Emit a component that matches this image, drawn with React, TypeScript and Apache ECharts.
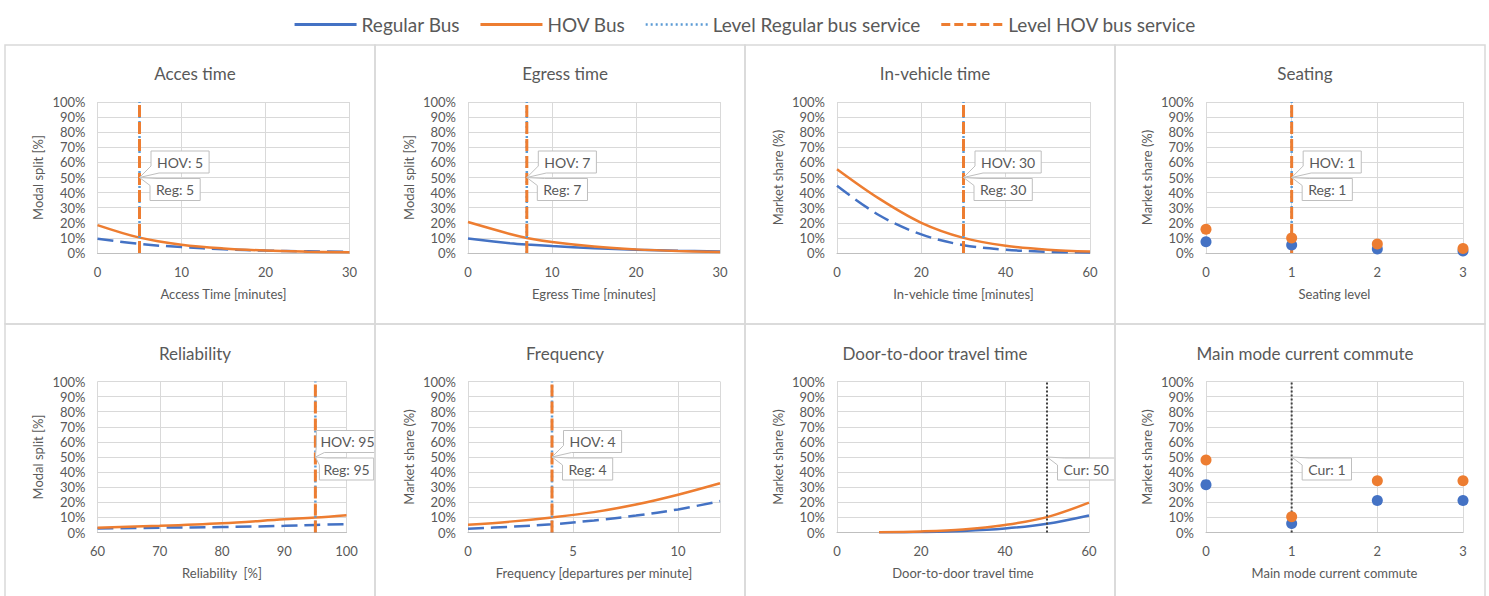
import React, { useEffect, useRef } from "react";
import * as echarts from "echarts";

const FONT = "Lato, 'Open Sans', sans-serif";
const TEXT = "#595959";
const GRIDLINE = "#D9D9D9";
const BLUE = "#4472C4";
const ORANGE = "#ED7D31";
const LIGHTBLUE = "#5B9BD5";
const CURCOLOR = "#404040";

const legendNames = ["Regular Bus", "HOV Bus", "Level Regular bus service", "Level HOV bus service"];

const titles = ["Acces time", "Egress time", "In-vehicle time", "Seating", "Reliability", "Frequency", "Door-to-door travel time", "Main mode current commute"];
const xNames = ["Access Time [minutes]", "Egress Time [minutes]", "In-vehicle time [minutes]", "Seating level", "Reliability  [%]", "Frequency [departures per minute]", "Door-to-door travel time", "Main mode current commute"];
const yNames = ["Modal split [%]", "Modal split [%]", "Market share (%)", "Market share (%)", "Modal split [%]", "Market share (%)", "Market share (%)", "Market share (%)"];
const xMins = [0, 0, 0, 0, 60, 0, 0, 0];
const xMaxs = [30, 30, 60, 3, 100, 12, 60, 3];
const xIntervals = [10, 10, 20, 1, 10, 5, 20, 1];

// Access time
const accessX = [0, 5, 10, 15, 20, 25, 30];
const accessHov = [18.5, 10.2, 5.5, 3.0, 1.6, 0.9, 0.5];
const accessReg = [9.5, 6.0, 3.9, 2.5, 1.6, 1.1, 0.8];
const accessLevel = 5;

// Egress time
const egressX = [0, 5, 7, 10, 15, 20, 25, 30];
const egressHov = [20.5, 12.6, 10.0, 7.3, 4.3, 2.4, 1.3, 0.7];
const egressReg = [9.6, 6.5, 5.6, 4.6, 3.2, 2.2, 1.5, 1.0];
const egressLevel = 7;

// In-vehicle time
const inVehX = [0, 10, 20, 30, 40, 50, 60];
const inVehHov = [55.5, 36, 20, 10, 4.8, 2.2, 1.0];
const inVehReg = [44.5, 25, 12.3, 5.2, 2.2, 0.8, 0.3];
const inVehLevel = 30;

// Seating
const seatingX = [0, 1, 2, 3];
const seatingHov = [15.8, 10.0, 5.9, 3.0];
const seatingReg = [7.4, 5.3, 2.7, 1.4];
const seatingLevel = 1;

// Reliability
const relX = [60, 70, 80, 90, 95, 100];
const relHov = [3.2, 4.4, 6.1, 8.7, 9.9, 11.5];
const relReg = [2.6, 3.2, 3.6, 4.4, 5.0, 5.6];
const relLevel = 95;

// Frequency
const freqX = [0, 2, 4, 6, 8, 10, 12];
const freqHov = [5.2, 7.2, 10, 13.5, 18.5, 25, 32.6];
const freqReg = [2.5, 3.8, 5.4, 8.0, 11.2, 15.3, 20.8];
const freqLevel = 4;

// Door-to-door travel time
const d2dX = [10, 20, 30, 40, 50, 60];
const d2dHov = [0.2, 0.7, 2.0, 5.0, 10.2, 19.8];
const d2dReg = [0.1, 0.35, 1.0, 2.6, 5.8, 11.3];
const d2dCurrent = 50;

// Main mode current commute
const mainX = [0, 1, 2, 3];
const mainHov = [48, 10.5, 34.3, 34.3];
const mainReg = [31.7, 5.9, 21.2, 21.2];
const mainCurrent = 1;

type PanelData = {
  kind: "line" | "scatter";
  x: number[];
  hov: number[];
  reg: number[];
  regDashed: boolean;
  level: number | null;
  current: number | null;
};

const panelData: PanelData[] = [
  { kind: "line", x: accessX, hov: accessHov, reg: accessReg, regDashed: true, level: accessLevel, current: null },
  { kind: "line", x: egressX, hov: egressHov, reg: egressReg, regDashed: false, level: egressLevel, current: null },
  { kind: "line", x: inVehX, hov: inVehHov, reg: inVehReg, regDashed: true, level: inVehLevel, current: null },
  { kind: "scatter", x: seatingX, hov: seatingHov, reg: seatingReg, regDashed: false, level: seatingLevel, current: null },
  { kind: "line", x: relX, hov: relHov, reg: relReg, regDashed: true, level: relLevel, current: null },
  { kind: "line", x: freqX, hov: freqHov, reg: freqReg, regDashed: true, level: freqLevel, current: null },
  { kind: "line", x: d2dX, hov: d2dHov, reg: d2dReg, regDashed: false, level: null, current: d2dCurrent },
  { kind: "scatter", x: mainX, hov: mainHov, reg: mainReg, regDashed: false, level: null, current: mainCurrent },
];

// layout (pixels)
const gridLefts = [97.5, 468, 837, 1206, 97.5, 468, 837, 1206];
const gridWidths = [252, 252, 253, 257, 249, 252, 252, 257];
const gridTops = [102, 102, 102, 102, 381.5, 381.5, 381.5, 381.5];
const gridHeight = 151;
const panelLefts = [5, 375, 745, 1115];
const panelWidth = 370;
const panelTops = [45, 324];
const panelHeights = [279, 280];

// callout offsets per panel: [hov dx, reg dx, text padding]
const calloutDx: Record<number, [number, number, number]> = {
  0: [11.5, 10.5, 6],
  1: [11.5, 10.5, 6],
  2: [11.5, 10.5, 6],
  3: [11.5, 10.5, 6],
  4: [1, 4, 4],
  5: [11.5, 10.5, 6],
};

function zip(xs: number[], ys: number[]) {
  return xs.map((x, i) => [x, ys[i]]);
}

export default function App() {
  const ref = useRef<HTMLDivElement>(null);
  useEffect(() => {
    if (!ref.current) return;
    const chart = echarts.init(ref.current, undefined, { renderer: "svg" });

    const grids: any[] = [];
    const xAxes: any[] = [];
    const yAxes: any[] = [];
    const titleOpts: any[] = [];
    const series: any[] = [];

    panelData.forEach((p, i) => {
      const col = i % 4;
      const row = Math.floor(i / 4);
      grids.push({ left: gridLefts[i], top: gridTops[i], width: gridWidths[i], height: gridHeight, containLabel: false });
      const interval = xIntervals[i];
      xAxes.push({
        type: "value",
        gridIndex: i,
        min: xMins[i],
        max: xMaxs[i],
        interval,
        name: xNames[i],
        nameLocation: "middle",
        nameGap: 34,
        nameTextStyle: { fontSize: 13, color: TEXT, fontFamily: FONT },
        axisLine: { show: true, lineStyle: { color: "#BFBFBF", width: 1 } },
        axisTick: { show: false },
        axisLabel: {
          fontSize: 13,
          color: TEXT,
          fontFamily: FONT,
          margin: 12,
          formatter: (v: number) => ((v - xMins[i]) % interval === 0 ? String(v) : ""),
        },
        splitLine: { show: true, lineStyle: { color: GRIDLINE, width: 1 } },
      });
      yAxes.push({
        type: "value",
        gridIndex: i,
        min: 0,
        max: 100,
        interval: 10,
        name: yNames[i],
        nameLocation: "middle",
        nameGap: 53,
        nameTextStyle: { fontSize: 13, color: TEXT, fontFamily: FONT },
        axisLine: { show: false },
        axisTick: { show: false },
        axisLabel: { fontSize: 13, color: TEXT, fontFamily: FONT, margin: 12, formatter: (v: number) => v + "%" },
        splitLine: { show: true, lineStyle: { color: GRIDLINE, width: 1 } },
      });
      titleOpts.push({
        text: titles[i],
        left: panelLefts[col] + panelWidth / 2,
        top: row === 0 ? 60 : 340,
        textAlign: "center",
        textStyle: { fontSize: 17, fontWeight: "normal", color: TEXT, fontFamily: FONT },
      });

      if (p.kind === "line") {
        series.push({
          type: "line",
          name: "Regular Bus",
          xAxisIndex: i,
          yAxisIndex: i,
          data: zip(p.x, p.reg),
          smooth: 0.35,
          symbol: "none",
          lineStyle: { color: BLUE, width: 2.5, type: p.regDashed ? [16, 7] : "solid" },
          itemStyle: { color: BLUE },
          z: 2,
        });
        series.push({
          type: "line",
          name: "HOV Bus",
          xAxisIndex: i,
          yAxisIndex: i,
          data: zip(p.x, p.hov),
          smooth: 0.35,
          symbol: "none",
          lineStyle: { color: ORANGE, width: 2.5 },
          itemStyle: { color: ORANGE },
          z: 3,
        });
      }
      if (p.level !== null) {
        series.push({
          type: "line",
          name: "Level Regular bus service",
          xAxisIndex: i,
          yAxisIndex: i,
          data: [[p.level, 0], [p.level, 100]],
          symbol: "none",
          lineStyle: { color: LIGHTBLUE, width: 2.5, type: [2, 3] },
          itemStyle: { color: LIGHTBLUE },
          z: 4,
        });
        series.push({
          type: "line",
          name: "Level HOV bus service",
          xAxisIndex: i,
          yAxisIndex: i,
          data: [[p.level, 0], [p.level, 100]],
          symbol: "none",
          lineStyle: { color: ORANGE, width: 3, type: [12, 5] },
          itemStyle: { color: ORANGE },
          z: 5,
        });
      }
      if (p.current !== null) {
        series.push({
          type: "line",
          name: "Current",
          xAxisIndex: i,
          yAxisIndex: i,
          data: [[p.current, 0], [p.current, 100]],
          symbol: "none",
          lineStyle: { color: CURCOLOR, width: 2, type: [2, 2] },
          itemStyle: { color: CURCOLOR },
          z: 4,
        });
      }
      if (p.kind === "scatter") {
        series.push({
          type: "scatter",
          name: "Regular Bus",
          xAxisIndex: i,
          yAxisIndex: i,
          data: zip(p.x, p.reg),
          symbolSize: 11,
          itemStyle: { color: BLUE, opacity: 1 },
          z: 6,
        });
        series.push({
          type: "scatter",
          name: "HOV Bus",
          xAxisIndex: i,
          yAxisIndex: i,
          data: zip(p.x, p.hov),
          symbolSize: 11,
          itemStyle: { color: ORANGE, opacity: 1 },
          z: 7,
        });
      }
    });

    const hiddenSymbol = { opacity: 0, borderWidth: 0 };

    chart.setOption({
      animation: false,
      backgroundColor: "#ffffff",
      textStyle: { fontFamily: FONT },
      title: titleOpts,
      legend: {
        top: 10,
        left: "center",
        itemWidth: 62,
        itemHeight: 14,
        itemGap: 19,
        textStyle: { fontSize: 19, color: TEXT, fontFamily: FONT },
        data: [
          { name: legendNames[0], itemStyle: hiddenSymbol, lineStyle: { color: BLUE, width: 3, type: "solid" } },
          { name: legendNames[1], itemStyle: hiddenSymbol, lineStyle: { color: ORANGE, width: 3, type: "solid" } },
          { name: legendNames[2], itemStyle: hiddenSymbol, lineStyle: { color: LIGHTBLUE, width: 2.5, type: [2, 3] } },
          { name: legendNames[3], itemStyle: hiddenSymbol, lineStyle: { color: ORANGE, width: 3, type: [9, 4] } },
        ],
      },
      grid: grids,
      xAxis: xAxes,
      yAxis: yAxes,
      series,
    });

    // callouts and panel borders
    const CALLOUT_FONT = 14;
    const ctx = document.createElement("canvas").getContext("2d")!;
    ctx.font = CALLOUT_FONT + "px Lato";
    const graphics: any[] = [];
    const boxH = 22;

    const addBox = (text: string, tx: number, ty: number, dx: number, pad: number, side: "above" | "below", clampRight: number) => {
      const w = ctx.measureText(text).width;
      const L = tx + dx;
      const R = Math.min(L + w + pad * 2, clampRight);
      let pts: number[][];
      let T: number, B: number;
      if (side === "above") {
        B = ty - 4.5;
        T = B - boxH;
        pts = [[L, T], [R, T], [R, B], [L + 8, B], [tx, ty], [L, B - 7]];
      } else {
        T = ty + 1;
        B = T + boxH;
        pts = [[tx, ty], [L + 7, T], [R, T], [R, B], [L, B], [L, T + 7]];
      }
      graphics.push({
        type: "polygon",
        shape: { points: pts },
        style: { fill: "#ffffff", stroke: "#BFBFBF", lineWidth: 1 },
        z: 100,
      });
      graphics.push({
        type: "text",
        x: L + pad,
        y: (T + B) / 2,
        style: { text, fill: TEXT, font: CALLOUT_FONT + "px " + FONT, verticalAlign: "middle", align: "left" },
        z: 101,
      });
    };

    panelData.forEach((p, i) => {
      const col = i % 4;
      const clampRight = panelLefts[col] + panelWidth;
      if (p.level !== null) {
        const [tx, ty] = chart.convertToPixel({ gridIndex: i } as any, [p.level, 50]) as number[];
        const [dh, dr, pad] = calloutDx[i];
        addBox("HOV: " + p.level, tx, ty, dh, pad, "above", clampRight);
        addBox("Reg: " + p.level, tx, ty, dr, pad, "below", clampRight);
      }
      if (p.current !== null) {
        const [tx, ty] = chart.convertToPixel({ gridIndex: i } as any, [p.current, 50]) as number[];
        addBox("Cur: " + p.current, tx, ty, 10.5, 6, "below", clampRight);
      }
    });

    panelTops.forEach((top, r) => {
      panelLefts.forEach((left) => {
        graphics.push({
          type: "rect",
          shape: { x: left, y: top, width: panelWidth, height: panelHeights[r] },
          style: { fill: "none", stroke: GRIDLINE, lineWidth: 1.5 },
          z: 110,
          silent: true,
        });
      });
    });

    chart.setOption({ graphic: graphics });

    return () => {
      chart.dispose();
    };
  }, []);

  return <div ref={ref} style={{ position: "fixed", left: 0, top: 0, width: 1489, height: 596 }} />;
}
